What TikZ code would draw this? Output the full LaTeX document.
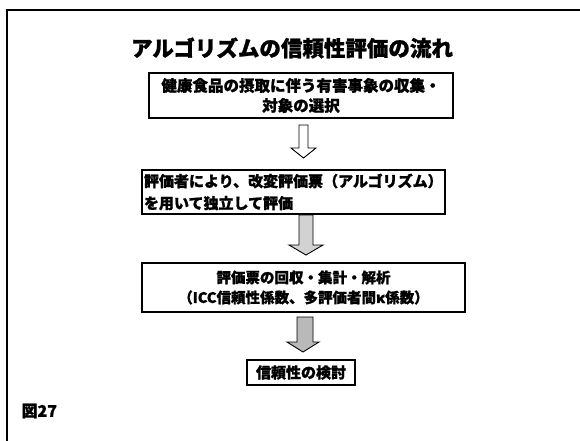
\documentclass[tikz,border=0pt]{standalone}
\usepackage{fontspec}
\setmainfont{Noto Sans CJK JP}[BoldFeatures={FakeBold=1.2}]
\begin{document}
\begin{tikzpicture}[x=1pt,y=-1pt,
  flowbox/.style={draw=black,line width=1.1pt,inner sep=0pt,font=\bfseries\fontsize{15}{20}\selectfont},
  blockarrow/.style={draw=black,line width=0.9pt}]
\useasboundingbox (0,0) rectangle (580,441);
% frame
\draw[line width=1.4pt] (580,10) -- (7,10) -- (7,441);
% title
\node[font=\bfseries\fontsize{21.5}{24}\selectfont] (title) at (292,48) {アルゴリズムの信頼性評価の流れ};
% boxes
\node[flowbox,minimum width=304pt,minimum height=45pt,align=center,font=\bfseries\fontsize{15.5}{20}\selectfont] (b1) at (301,95.5)
  {健康食品の摂取に伴う有害事象の収集・\\対象の選択};
\node[flowbox,minimum width=303pt,minimum height=44pt,text width=299pt,align=left,font=\bfseries\fontsize{15}{22}\selectfont] (b2) at (293.5,192)
  {評価者により、改変評価票（アルゴリズム）\\を用いて独立して評価};
\node[flowbox,minimum width=323pt,minimum height=49pt,align=center,font=\bfseries\fontsize{14.5}{20}\selectfont] (b3) at (303.5,287.5)
  {評価票の回収・集計・解析\\（ICC信頼性係数、多評価者間κ係数）};
\node[flowbox,minimum width=108pt,minimum height=25pt] (b4) at (301,372.5) {信頼性の検討};
% block arrows
\draw[blockarrow,fill=white] (299,125) -- (308,125) -- (308,148) -- (316,148) -- (303.5,158) -- (291,148) -- (299,148) -- cycle;
\draw[blockarrow,fill=gray!35] (299,215) -- (313,215) -- (313,245) -- (323,245) -- (306,255) -- (289,245) -- (299,245) -- cycle;
\draw[blockarrow,fill=gray!55] (297,317) -- (313,317) -- (313,342) -- (319,342) -- (303,352) -- (287,342) -- (297,342) -- cycle;
% figure label
\node[anchor=west,font=\bfseries\fontsize{16}{18}\selectfont] (fig) at (18,411) {図27};
\end{tikzpicture}
\end{document}
